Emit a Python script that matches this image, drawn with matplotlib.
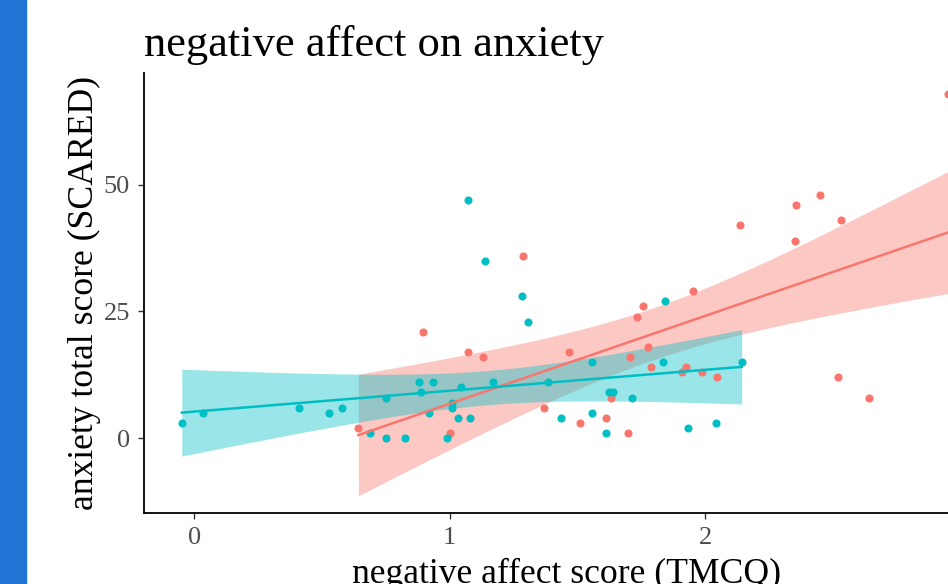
import numpy as np
import matplotlib
matplotlib.use("Agg")
import matplotlib.pyplot as plt
from matplotlib.patches import Rectangle

# ---- data ----
red_x = [0.643, 0.895, 1.002, 1.071, 1.132, 1.289, 1.371, 1.468, 1.511, 1.613,
         1.631, 1.697, 1.706, 1.733, 1.756, 1.776, 1.789, 1.911, 1.924, 1.952,
         1.987, 2.048, 2.137, 2.350, 2.355, 2.450, 2.519, 2.532, 2.642, 2.952]
red_y = [2, 21, 1, 17, 16, 36, 6, 17, 3, 4,
         8, 1, 16, 24, 26, 18, 14, 13, 14, 29,
         13, 12, 42, 39, 46, 48, 12, 43, 8, 68]

teal_x = [-0.048, 0.034, 0.411, 0.527, 0.580, 0.689, 0.751, 0.751, 0.826, 0.881,
          0.887, 0.921, 0.937, 0.989, 1.011, 1.011, 1.031, 1.045, 1.071, 1.080,
          1.139, 1.168, 1.282, 1.305, 1.387, 1.435, 1.556, 1.556, 1.613, 1.622,
          1.638, 1.713, 1.837, 1.843, 1.932, 2.042, 2.143]
teal_y = [3, 5, 6, 5, 6, 1, 8, 0, 0, 11,
          9, 5, 11, 0, 7, 6, 4, 10, 47, 4,
          35, 11, 28, 23, 11, 4, 15, 5, 1, 9,
          9, 8, 15, 27, 2, 3, 15]

x_ticks = [0, 1, 2, 3]
y_ticks = [0, 25, 50]
title = "negative affect on anxiety"
xlabel = "negative affect score (TMCQ)"
ylabel = "anxiety total score (SCARED)"

RED = "#F8766D"
TEAL = "#00BFC4"

plt.rcParams['font.family'] = ['Liberation Serif', 'DejaVu Serif']

W, H = 948, 584
fig = plt.figure(figsize=(W / 100, H / 100), dpi=100)
# left blue strip of the screenshot
fig.patches.append(Rectangle((0, 0), 26 / W, 1, transform=fig.transFigure,
                             color="#1F74D4", zorder=0))

ax = fig.add_axes([144 / W, 71 / H, 846 / W, 440 / H])


def t_crit(df):
    # 97.5% quantile of Student t (Cornish-Fisher approximation)
    z = 1.959964
    g1 = (z**3 + z) / 4
    g2 = (5 * z**5 + 16 * z**3 + 3 * z) / 96
    g3 = (3 * z**7 + 19 * z**5 + 17 * z**3 - 15 * z) / 384
    return z + g1 / df + g2 / df**2 + g3 / df**3


def smooth(xs, ys, color):
    xs = np.asarray(xs, float)
    ys = np.asarray(ys, float)
    n = len(xs)
    b, a = np.polyfit(xs, ys, 1)
    resid = ys - (a + b * xs)
    s = np.sqrt(np.sum(resid**2) / (n - 2))
    xbar = xs.mean()
    sxx = np.sum((xs - xbar) ** 2)
    xg = np.linspace(xs.min(), xs.max(), 80)
    yg = a + b * xg
    se = s * np.sqrt(1 / n + (xg - xbar) ** 2 / sxx)
    t = t_crit(n - 2)
    ax.fill_between(xg, yg - t * se, yg + t * se, color=color, alpha=0.4,
                    linewidth=0, zorder=1)
    ax.plot(xg, yg, color=color, lw=1.8, zorder=3)


ax.scatter(red_x, red_y, s=34, color=RED, zorder=2, linewidths=0)
ax.scatter(teal_x, teal_y, s=34, color=TEAL, zorder=2, linewidths=0)
smooth(red_x, red_y, RED)
smooth(teal_x, teal_y, TEAL)

ax.set_xlim(-0.196, 3.115)
ax.set_ylim(-14.8, 72.1)
ax.set_xticks(x_ticks)
ax.set_yticks(y_ticks)
for sp in ["top", "right"]:
    ax.spines[sp].set_visible(False)
for sp in ["left", "bottom"]:
    ax.spines[sp].set_linewidth(1.3)
    ax.spines[sp].set_color("black")
ax.tick_params(axis="both", length=4.5, width=1.0, color="#333333",
               labelcolor="#4D4D4D", labelsize=19, pad=5.5)

ax.set_xlabel(xlabel, fontsize=25.7, color="black")
ax.set_ylabel(ylabel, fontsize=25.7, color="black")
ax.xaxis.set_label_coords((567 - 144) / 846, (513 - 558) / 440)
ax.yaxis.set_label_coords((101 - 144) / 846, 0.5)
fig.text(144 / W, 1 - 56 / H, title, fontsize=32, color="black",
         ha="left", va="baseline")

fig.savefig("out.png", dpi=100)
